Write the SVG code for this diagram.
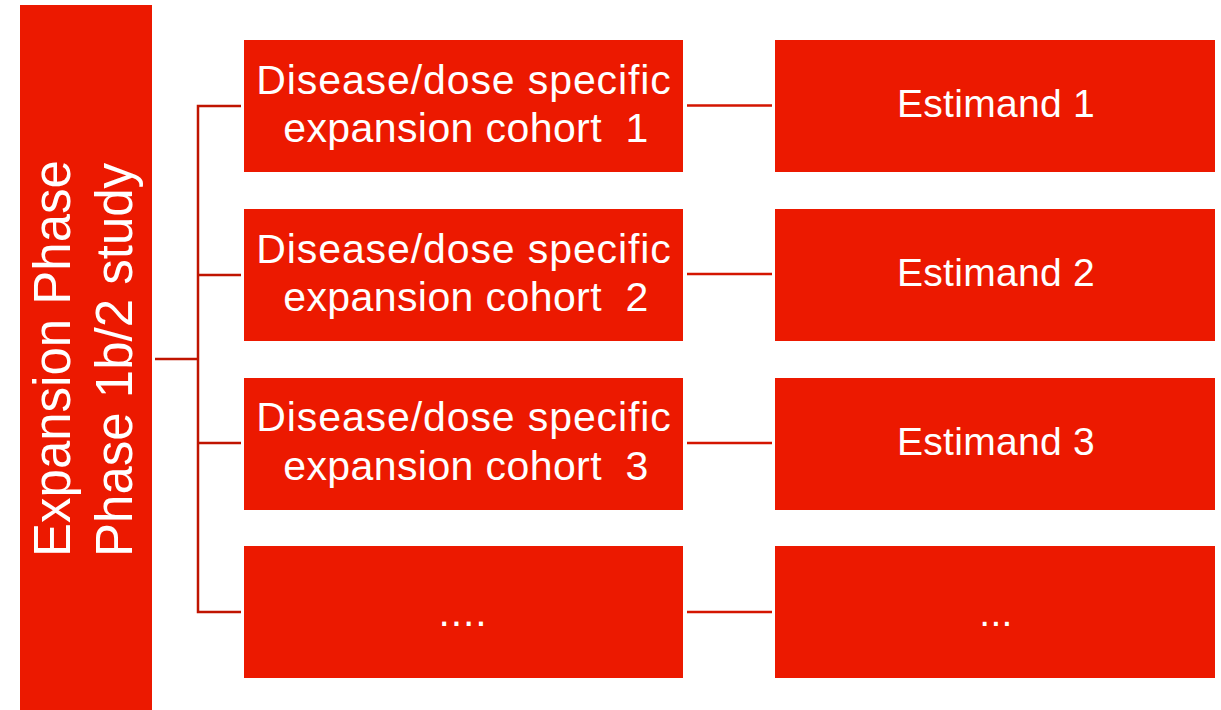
<svg xmlns="http://www.w3.org/2000/svg" width="1221" height="710" viewBox="0 0 1221 710">
<style>
.box{fill:#EC1900;}
.t{fill:#fff;font-family:"Liberation Sans",Arial,sans-serif;font-size:41px;text-anchor:middle;letter-spacing:0.9px;white-space:pre;}
.t2{letter-spacing:0.4px;}
.e{fill:#fff;font-family:"Liberation Sans",Arial,sans-serif;font-size:39px;text-anchor:middle;letter-spacing:0.3px;}
.v{fill:#fff;font-family:"Liberation Sans",Arial,sans-serif;font-size:51px;text-anchor:start;}
.br{stroke:#C01400;stroke-width:2.5;fill:none;}
.cn{stroke:#D41500;stroke-width:2.5;fill:none;}
</style>
<rect width="1221" height="710" fill="#fff"/>
<g id="connectors">
<path class="br" d="M155 359H198M241 106H198V612H241M198 275H241M198 443H241"/>
<path class="cn" d="M687 105.5H772M687 274H772M687 443H772M687 612H772"/>
</g>
<g id="phase">
<rect class="box" x="20" y="5" width="132" height="705"/>
<text class="v" transform="translate(70,557) rotate(-90)">Expansion Phase</text>
<text class="v" transform="translate(131.5,557) rotate(-90)">Phase 1b/2 study</text>
</g>
<g id="cohort1">
<rect class="box" x="244" y="40" width="439" height="132"/>
<text class="t" x="464" y="94">Disease/dose specific</text>
<text class="t t2" x="466" y="142">expansion cohort  1</text>
</g>
<g id="cohort2">
<rect class="box" x="244" y="209" width="439" height="132"/>
<text class="t" x="464" y="263">Disease/dose specific</text>
<text class="t t2" x="466" y="311">expansion cohort  2</text>
</g>
<g id="cohort3">
<rect class="box" x="244" y="378" width="439" height="132"/>
<text class="t" x="464" y="431">Disease/dose specific</text>
<text class="t t2" x="466" y="480">expansion cohort  3</text>
</g>
<g id="cohort4">
<rect class="box" x="244" y="546" width="439" height="132"/>
<text class="t" x="463" y="626">....</text>
</g>
<g id="estimand1">
<rect class="box" x="775" y="40" width="440" height="132"/>
<text class="e" x="996" y="117">Estimand 1</text>
</g>
<g id="estimand2">
<rect class="box" x="775" y="209" width="440" height="132"/>
<text class="e" x="996" y="286">Estimand 2</text>
</g>
<g id="estimand3">
<rect class="box" x="775" y="378" width="440" height="132"/>
<text class="e" x="996" y="455">Estimand 3</text>
</g>
<g id="estimand4">
<rect class="box" x="775" y="546" width="440" height="132"/>
<text class="e" x="996" y="626">...</text>
</g>
</svg>
